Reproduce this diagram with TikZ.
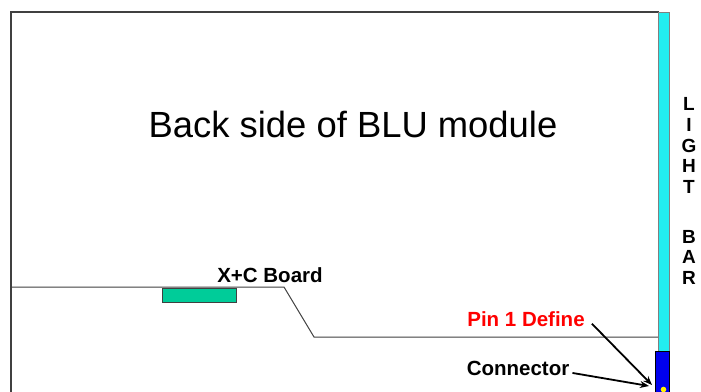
\documentclass[tikz,border=0pt]{standalone}
\usepackage{fontspec}
\setmainfont{Liberation Sans}
\usetikzlibrary{arrows.meta}
\definecolor{framegray}{HTML}{404040}
\definecolor{boardgreen}{HTML}{00CC99}
\definecolor{barcyan}{HTML}{22EEF0}
\definecolor{pinred}{HTML}{FF0000}
\definecolor{connblue}{HTML}{0000EE}
\tikzset{
  frameline/.style={draw=framegray, line width=1.7pt},
  wireline/.style={draw=framegray, line width=1pt},
  lbl/.style={font=\fontsize{20.5}{24}\selectfont\bfseries, inner sep=0pt, anchor=base},
  barletter/.style={font=\fontsize{19}{21}\selectfont\bfseries, inner sep=0pt, anchor=base},
  pointer/.style={draw=black, line width=1.8pt, -{Stealth[length=9pt,width=7pt]}}
}
\begin{document}
\begin{tikzpicture}[x=1pt,y=-1pt]
\useasboundingbox (0,0) rectangle (701,391);
\fill[white] (0,0) rectangle (701,391);
% frame
\coordinate (fbl) at (11,395);
\coordinate (ftl) at (11,12);
\coordinate (ftr) at (659,12);
\draw[frameline] (fbl) -- (ftl) -- (ftr);
% wires
\coordinate (w0) at (11,287);
\coordinate (w1) at (284,287);
\coordinate (w2) at (314,337);
\coordinate (w3) at (659,337);
\draw[wireline] (w0) -- (w1) -- (w2) -- (w3);
% board
\node[draw=framegray, line width=1pt, fill=boardgreen, minimum width=74pt, minimum height=14pt, inner sep=0pt, anchor=north west] (board) at (162,288) {};
% light bar
\node[draw=gray, line width=0.9pt, fill=barcyan, minimum width=11pt, minimum height=339pt, inner sep=0pt, anchor=north west] (bar) at (658,12) {};
\node[draw=black, line width=0.8pt, fill=connblue, minimum width=14pt, minimum height=45pt, inner sep=0pt, anchor=north west] (conn) at (655,351) {};
\fill[yellow] (663.5,389.5) circle (2.8pt);
% texts
\node[font=\fontsize{36.4}{42}\selectfont, inner sep=0pt, anchor=base] (title) at (353,137) {Back side of BLU module};
\node[lbl] (xc) at (270,282) {X+C Board};
\node[lbl, text=pinred] (pin) at (526,326) {Pin 1 Define};
\node[lbl] (cn) at (518,375) {Connector};
\foreach \l/\yy [count=\i] in {L/110,I/131,G/152,H/172,T/193,B/243,A/263,R/284}{
  \node[barletter] (bl\i) at (689,\yy) {\l};
}
% pointers
\coordinate (pintip) at (652,385);
\coordinate (conntip) at (649,386);
\draw[pointer] ([xshift=7pt,yshift=-5pt]pin.east) -- (pintip);
\draw[pointer] ([xshift=3pt,yshift=-5pt]cn.east) -- (conntip);
\end{tikzpicture}
\end{document}
